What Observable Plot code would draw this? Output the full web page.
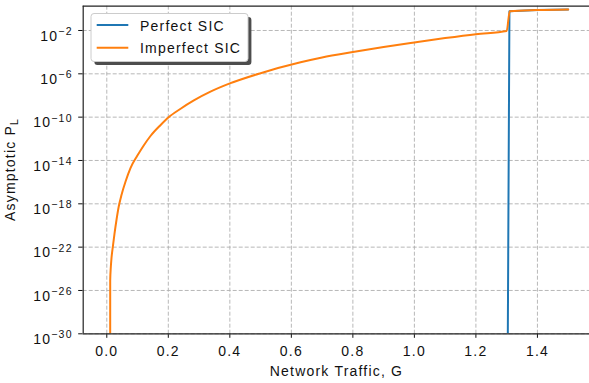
<!DOCTYPE html>
<html><head><meta charset="utf-8">
<script src="https://cdn.jsdelivr.net/npm/d3@7"></script>
<script src="https://cdn.jsdelivr.net/npm/@observablehq/plot@0.6"></script>
<style>body{margin:0;background:#fff;overflow:hidden}</style>
</head><body><div id="chart"></div>
<script>
// ---- data ----
const seriesNames = ["Perfect SIC", "Imperfect SIC"];
const seriesColors = ["#1f77b4", "#ff7f0e"];

const imperfectG  = [0.011, 0.0111, 0.013, 0.0153, 0.0195, 0.025, 0.0315, 0.039, 0.048, 0.061, 0.077, 0.099, 0.119, 0.142, 0.175, 0.2, 0.24, 0.283, 0.337, 0.4, 0.5, 0.63, 0.7, 0.8, 0.9, 1.0, 1.1, 1.2, 1.3, 1.31, 1.4, 1.5];
const imperfectPL = [1e-40, 8.3e-26, 1.32e-24, 1.0e-23, 1.0e-22, 1.66e-21, 3.2e-20, 5.9e-19, 6.9e-18, 1.15e-16, 2.0e-15, 2.7e-14, 2.2e-13, 1.82e-12, 1.9e-11, 9.3e-11, 6.0e-10, 3.5e-9, 2.24e-8, 1.3e-7, 1.15e-6, 1.15e-5, 3.2e-5, 1.02e-4, 3.0e-4, 7.9e-4, 2.0e-3, 4.6e-3, 8.8e-3, 0.6, 0.76, 0.87];

const perfectG  = [1.302, 1.309, 1.4, 1.5];
const perfectPL = [1e-40, 0.6, 0.76, 0.87];

const xTicks = [0, 0.2, 0.4, 0.6, 0.8, 1.0, 1.2, 1.4];
const xTickLabels = ["0.0", "0.2", "0.4", "0.6", "0.8", "1.0", "1.2", "1.4"];
const yTicks = [1e-30, 1e-26, 1e-22, 1e-18, 1e-14, 1e-10, 1e-6, 1e-2];
const yTickExponents = ["\u221230", "\u221226", "\u221222", "\u221218", "\u221214", "\u221210", "\u22126", "\u22122"];

const xLabel = "Network Traffic, G";
const yLabelMain = "Asymptotic P";
const yLabelSub = "L";

// ---- build tables ----
const imperfect = imperfectG.map((g, i) => ({G: g, PL: imperfectPL[i]}));
const perfect = perfectG.map((g, i) => ({G: g, PL: perfectPL[i]}));
const xDomain = [-0.0767, 1.5693];
const yDomain = [1e-30, 1.75];

const W = 589, H = 383;
const mL = 82.7, mT = 5.7, mB = 49.7, mR = 0;
const FONT = "'Liberation Sans', Arial, Helvetica, sans-serif";
const gridStyle = {stroke: "#b0b0b0", strokeOpacity: 1, strokeWidth: 0.9, strokeDasharray: "4,2"};

const chart = Plot.plot({
  width: W, height: H,
  marginLeft: mL, marginRight: mR, marginTop: mT, marginBottom: mB,
  style: {fontFamily: FONT, fontSize: "14px", background: "#fff", color: "#111"},
  x: {domain: xDomain, ticks: xTicks, tickFormat: d => xTickLabels[xTicks.indexOf(d)], tickSize: 4.5, tickPadding: 8, label: null},
  y: {type: "log", domain: yDomain, ticks: yTicks, tickFormat: d => "10^" + yTickExponents[yTicks.indexOf(d)], tickSize: 4.5, tickPadding: 6, label: null},
  marks: [
    Plot.ruleX(xTicks, gridStyle),
    Plot.ruleY(yTicks, gridStyle),
    Plot.line(perfect, {x: "G", y: "PL", stroke: seriesColors[0], strokeWidth: 2, clip: true}),
    Plot.line(imperfect, {x: "G", y: "PL", stroke: seriesColors[1], strokeWidth: 2, curve: "monotone-x", clip: true}),
    Plot.ruleX([xDomain[0]], {stroke: "#222", strokeWidth: 1.2}),
    Plot.ruleY([yDomain[0], yDomain[1]], {stroke: "#222", strokeWidth: 1.2})
  ]
});
chart.style.letterSpacing = "1.2px";
chart.style.overflow = "visible";
document.getElementById("chart").append(chart);

const ns = "http://www.w3.org/2000/svg";
function el(tag, attrs, parent) {
  const e = document.createElementNS(ns, tag);
  for (const k in attrs) e.setAttribute(k, attrs[k]);
  (parent || chart).appendChild(e);
  return e;
}

// superscript exponents on y tick labels
chart.querySelectorAll("text").forEach(t => {
  const s = t.textContent;
  if (s.startsWith("10^")) {
    const exp = s.slice(3);
    t.textContent = "";
    t.setAttribute("dy", "0.4em");
    const a = el("tspan", {}, t); a.textContent = "10";
    const b = el("tspan", {dy: "-5.7px", "font-size": "10.5px"}, t); b.textContent = exp;
  }
});

// axis labels
const xl = el("text", {x: 336.5, y: 376, "text-anchor": "middle", "font-size": "14px", fill: "#111"});
xl.textContent = xLabel;
const yl = el("text", {transform: "translate(15,169.5) rotate(-90)", "text-anchor": "middle", "font-size": "14px", fill: "#111"});
const y1 = el("tspan", {}, yl); y1.textContent = yLabelMain;
const y2 = el("tspan", {dy: "3px", "font-size": "10.5px"}, yl); y2.textContent = yLabelSub;

// legend
const lg = el("g", {"text-anchor": "start"});
el("rect", {x: 94.4, y: 16.9, width: 157, height: 48, rx: 3, fill: "#4d4d4d"}, lg);
el("rect", {x: 91, y: 13.5, width: 157, height: 48, rx: 3, fill: "#fff", stroke: "#cccccc", "stroke-width": 1}, lg);
seriesNames.forEach((name, i) => {
  const yy = 25 + i * 22.7;
  el("line", {x1: 96.7, x2: 128.3, y1: yy, y2: yy, stroke: seriesColors[i], "stroke-width": 2}, lg);
  const t = el("text", {x: 140, y: yy + 5.7, "font-size": "14px", fill: "#111", "text-anchor": "start"}, lg);
  t.textContent = name;
});
</script>
</body></html>
